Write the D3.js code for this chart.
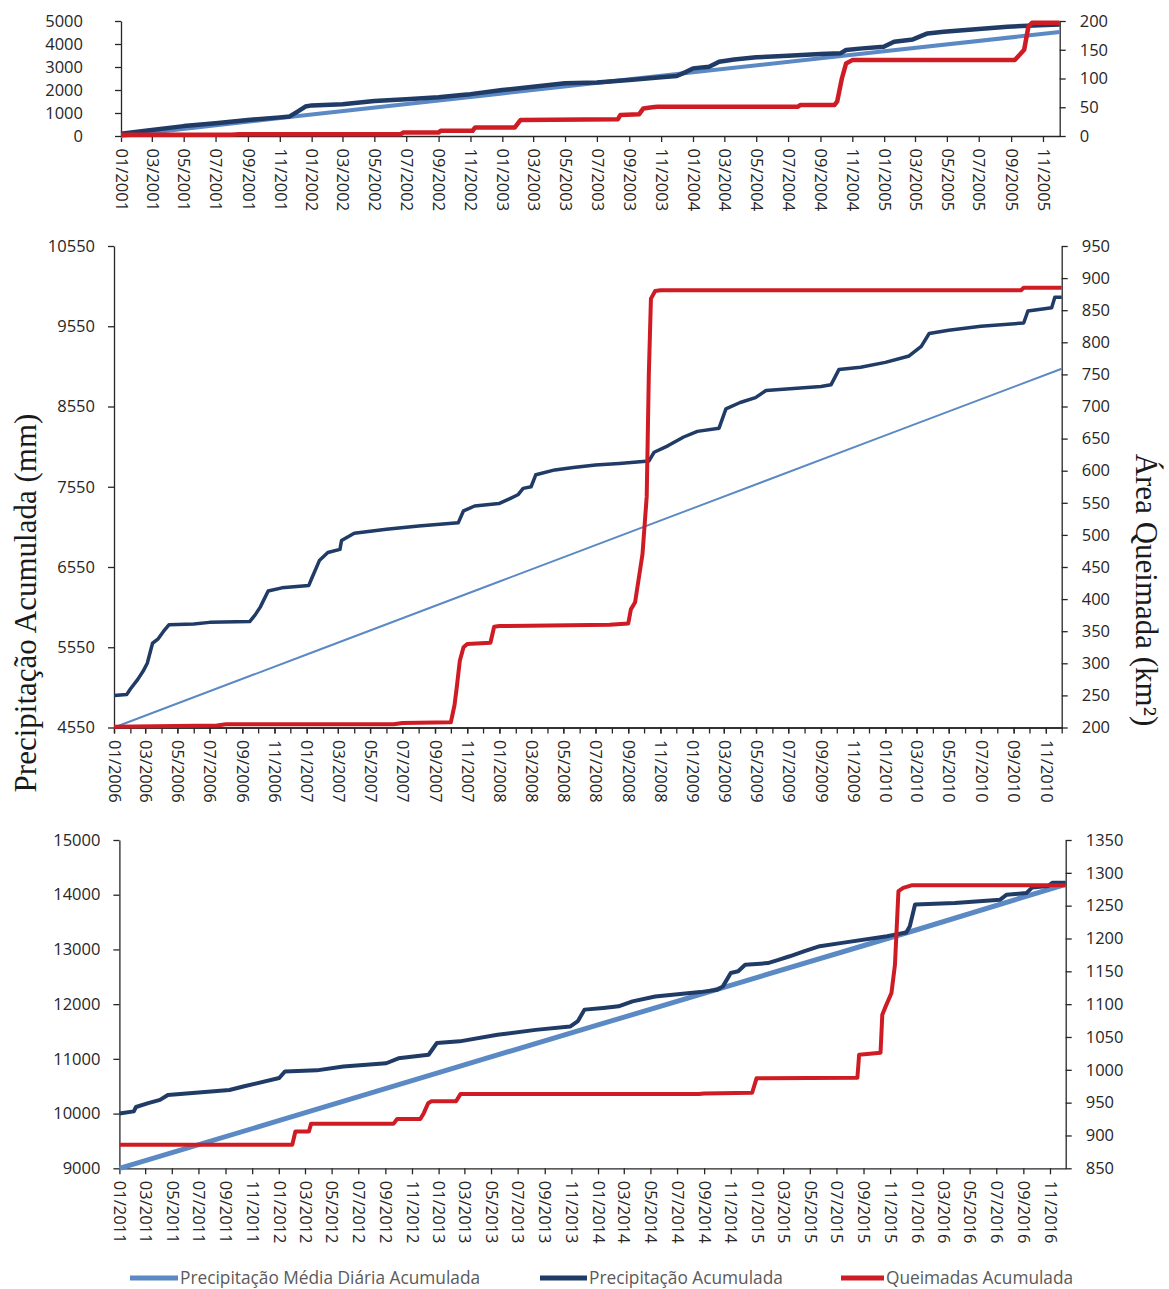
<!DOCTYPE html>
<html>
<head>
<meta charset="utf-8">
<script src="https://cdnjs.cloudflare.com/ajax/libs/d3/7.8.5/d3.min.js"></script>
<style>
    body { margin: 0; background: #fff; }
    .tick text { font-family: "Open Sans", sans-serif; font-size: 16.5px; fill: #262626; }
    .axis path, .axis line { stroke: #262626; stroke-width: 1.3px; }
    .legend text { font-family: "Open Sans", sans-serif; font-size: 17.3px; fill: #5a5a5a; }
    .title { font-family: "Liberation Serif", "Times New Roman", serif; font-size: 31px; fill: #1a1a1a; }
</style>
</head>
<body>
<div id="chart"></div>
<script>
const seriesNames = ["Precipitação Média Diária Acumulada", "Precipitação Acumulada", "Queimadas Acumulada"];
const seriesColors = ["#5b89c4", "#1f3b66", "#cf1c24"];

// 2001 - 2005 (mm on the left, km2 on the right)
const mean2001 = [["2001-01-01", 0], ["2002-01-01", 930], ["2003-01-01", 1850], ["2004-01-01", 2770],
    ["2005-01-01", 3680], ["2005-12-03", 4520]];
const precip2001 = [["2001-01-01", 100], ["2001-03-01", 260], ["2001-05-01", 430], ["2001-07-01", 550],
    ["2001-09-01", 700], ["2001-11-01", 810], ["2001-11-20", 850], ["2001-12-05", 1060], ["2001-12-20", 1280],
    ["2002-01-01", 1330], ["2002-03-01", 1380], ["2002-05-01", 1520], ["2002-07-01", 1600], ["2002-09-01", 1680],
    ["2002-10-15", 1780], ["2002-11-01", 1820], ["2003-01-01", 2000], ["2003-03-01", 2140], ["2003-05-01", 2290],
    ["2003-07-01", 2330], ["2003-09-01", 2435], ["2003-11-01", 2550], ["2003-12-01", 2610], ["2003-12-20", 2800],
    ["2004-01-01", 2940], ["2004-02-01", 3010], ["2004-02-20", 3230], ["2004-03-20", 3330], ["2004-05-01", 3420],
    ["2004-07-01", 3490], ["2004-09-01", 3560], ["2004-10-10", 3600], ["2004-10-20", 3740], ["2004-11-20", 3810],
    ["2004-12-31", 3880], ["2005-01-20", 4100], ["2005-02-25", 4200], ["2005-03-25", 4460], ["2005-04-25", 4530],
    ["2005-06-25", 4640], ["2005-08-25", 4750], ["2005-10-25", 4820], ["2005-12-03", 4850]];
const burned2001 = [["2001-01-01", 2], ["2001-08-01", 2], ["2001-08-15", 3], ["2002-06-20", 3], ["2002-06-25", 6],
    ["2002-09-01", 6], ["2002-09-05", 9], ["2002-11-05", 9], ["2002-11-10", 15], ["2003-01-25", 15],
    ["2003-02-05", 28], ["2003-08-10", 29], ["2003-08-15", 36.5], ["2003-09-20", 38], ["2003-09-28", 48],
    ["2003-10-15", 50], ["2003-10-25", 51], ["2004-07-20", 51], ["2004-07-25", 54], ["2004-09-28", 54],
    ["2004-10-03", 60], ["2004-10-12", 100], ["2004-10-20", 126], ["2004-11-01", 132], ["2005-09-08", 132],
    ["2005-09-26", 150], ["2005-10-04", 190], ["2005-10-11", 197], ["2005-12-03", 197]];
const leftTicks2001 = [0, 1000, 2000, 3000, 4000, 5000];
const rightTicks2001 = [0, 50, 100, 150, 200];

// 2006 - 2010
const mean2006 = [["2006-01-01", 4550], ["2007-01-01", 5460], ["2008-01-01", 6370], ["2009-01-01", 7280],
    ["2010-01-01", 8190], ["2010-12-01", 9020]];
const precip2006 = [["2006-01-01", 4950], ["2006-01-25", 4960], ["2006-02-01", 5030], ["2006-02-15", 5150],
    ["2006-02-25", 5250], ["2006-03-05", 5350], ["2006-03-15", 5600], ["2006-03-25", 5650], ["2006-04-05", 5750],
    ["2006-04-15", 5830], ["2006-06-01", 5840], ["2006-07-01", 5860], ["2006-09-15", 5870], ["2006-09-25", 5950],
    ["2006-10-05", 6050], ["2006-10-20", 6250], ["2006-11-15", 6290], ["2007-01-05", 6320], ["2007-01-10", 6400],
    ["2007-01-25", 6630], ["2007-02-10", 6730], ["2007-03-05", 6770], ["2007-03-08", 6880], ["2007-04-01", 6970],
    ["2007-06-01", 7020], ["2007-08-01", 7060], ["2007-10-15", 7100], ["2007-10-25", 7250], ["2007-11-15", 7310],
    ["2007-12-31", 7340], ["2008-01-20", 7400], ["2008-02-05", 7450], ["2008-02-15", 7530], ["2008-03-01", 7550],
    ["2008-03-10", 7700], ["2008-04-15", 7760], ["2008-05-20", 7790], ["2008-07-01", 7820], ["2008-08-15", 7840],
    ["2008-10-10", 7870], ["2008-10-20", 7980], ["2008-11-15", 8060], ["2008-12-15", 8170], ["2009-01-10", 8240],
    ["2009-02-20", 8280], ["2009-03-05", 8520], ["2009-04-01", 8600], ["2009-04-30", 8660], ["2009-05-20", 8750],
    ["2009-09-01", 8800], ["2009-09-20", 8820], ["2009-10-05", 9010], ["2009-11-15", 9040], ["2010-01-01", 9100],
    ["2010-02-15", 9180], ["2010-03-10", 9300], ["2010-03-25", 9460], ["2010-05-01", 9500], ["2010-07-01", 9550],
    ["2010-09-20", 9590], ["2010-09-28", 9740], ["2010-11-12", 9780], ["2010-11-18", 9910], ["2010-12-01", 9910]];
const burned2006 = [["2006-01-01", 201], ["2006-07-15", 203], ["2006-08-01", 205], ["2007-06-15", 205],
    ["2007-07-01", 207], ["2007-10-01", 208], ["2007-10-08", 235], ["2007-10-12", 261], ["2007-10-18", 304],
    ["2007-10-25", 325], ["2007-11-01", 330], ["2007-12-15", 332], ["2007-12-22", 357], ["2008-01-01", 358],
    ["2008-07-28", 360], ["2008-09-01", 362], ["2008-09-06", 384], ["2008-09-14", 395], ["2008-09-22", 438],
    ["2008-09-28", 470], ["2008-10-06", 560], ["2008-10-10", 750], ["2008-10-14", 868], ["2008-10-22", 880],
    ["2008-11-01", 881], ["2010-09-15", 881], ["2010-09-20", 885], ["2010-12-01", 885]];
const leftTicks2006 = [4550, 5550, 6550, 7550, 8550, 9550, 10550];
const rightTicks2006 = [200, 250, 300, 350, 400, 450, 500, 550, 600, 650, 700, 750, 800, 850, 900, 950];

// 2011 - 2016
const mean2011 = [["2011-01-01", 9000], ["2012-01-01", 9870], ["2013-01-01", 10750], ["2014-01-01", 11620],
    ["2015-01-01", 12490], ["2016-01-01", 13360], ["2016-12-07", 14190]];
const precip2011 = [["2011-01-01", 10000], ["2011-02-03", 10040], ["2011-02-08", 10120], ["2011-03-08", 10190],
    ["2011-04-04", 10250], ["2011-04-22", 10340], ["2011-09-10", 10430], ["2011-10-14", 10500], ["2012-01-02", 10650],
    ["2012-01-15", 10770], ["2012-03-28", 10790], ["2012-05-28", 10860], ["2012-09-03", 10920], ["2012-10-01", 11010],
    ["2012-12-09", 11075], ["2012-12-28", 11290], ["2013-02-18", 11320], ["2013-05-16", 11440], ["2013-08-11", 11530],
    ["2013-10-29", 11590], ["2013-11-16", 11690], ["2013-12-01", 11900], ["2014-01-13", 11930], ["2014-02-17", 11960],
    ["2014-03-21", 12050], ["2014-05-12", 12140], ["2014-08-23", 12220], ["2014-10-01", 12265], ["2014-10-14", 12325],
    ["2014-11-01", 12570], ["2014-11-18", 12600], ["2014-12-04", 12720], ["2015-01-25", 12750], ["2015-02-20", 12815],
    ["2015-03-16", 12875], ["2015-04-19", 12970], ["2015-05-24", 13060], ["2015-07-14", 13120], ["2015-10-25", 13240],
    ["2015-11-12", 13270], ["2015-12-08", 13310], ["2015-12-16", 13425], ["2015-12-28", 13820], ["2016-03-28", 13850],
    ["2016-07-10", 13910], ["2016-07-25", 14000], ["2016-09-08", 14030], ["2016-09-21", 14130], ["2016-10-28", 14160],
    ["2016-11-07", 14220], ["2016-12-07", 14220]];
const burned2011 = [["2011-01-01", 886], ["2012-02-01", 886], ["2012-02-08", 906], ["2012-03-10", 906],
    ["2012-03-15", 918], ["2012-09-20", 918], ["2012-09-28", 925], ["2012-11-20", 925], ["2012-11-28", 934],
    ["2012-12-08", 949], ["2012-12-15", 952], ["2013-02-10", 952], ["2013-02-20", 963], ["2014-08-20", 963],
    ["2014-09-01", 964], ["2014-12-20", 965], ["2014-12-30", 987], ["2015-08-18", 988], ["2015-08-22", 1023],
    ["2015-10-10", 1026], ["2015-10-14", 1084], ["2015-10-22", 1097], ["2015-11-04", 1117], ["2015-11-12", 1160],
    ["2015-11-20", 1272], ["2015-12-01", 1277], ["2015-12-20", 1281], ["2016-12-07", 1281]];
const leftTicks2011 = [9000, 10000, 11000, 12000, 13000, 14000, 15000];
const rightTicks2011 = [850, 900, 950, 1000, 1050, 1100, 1150, 1200, 1250, 1300, 1350];

const parse = d3.timeParse("%Y-%m-%d");
const plain = d3.format("d");

const panels = [
    { start: "2001-01-01", end: "2005-12-03", x0: 121, x1: 1059.7, top: 21, bottom: 136,
      left: [0, 5000], right: [0, 200], leftTicks: leftTicks2001, rightTicks: rightTicks2001,
      series: [mean2001, precip2001, burned2001], widths: [4, 4.5, 4.5], minor: false, leftPad: 32 },
    { start: "2006-01-01", end: "2010-12-01", x0: 114, x1: 1061.7, top: 246, bottom: 727.5,
      left: [4550, 10550], right: [200, 950], leftTicks: leftTicks2006, rightTicks: rightTicks2006,
      series: [mean2006, precip2006, burned2006], widths: [2, 3.5, 4], minor: true, leftPad: 13 },
    { start: "2011-01-01", end: "2016-12-07", x0: 119.4, x1: 1065.7, top: 840, bottom: 1168.3,
      left: [9000, 15000], right: [850, 1350], leftTicks: leftTicks2011, rightTicks: rightTicks2011,
      series: [mean2011, precip2011, burned2011], widths: [5, 4, 4], minor: false, leftPad: 13 }
];

const svg = d3.select("#chart").append("svg")
    .attr("width", 1169)
    .attr("height", 1289);

svg.append("rect").attr("width", 1169).attr("height", 1289).attr("fill", "#fff");

panels.forEach(function (p) {
    let x = d3.scaleTime()
        .domain([parse(p.start), parse(p.end)])
        .range([p.x0, p.x1]);
    let yLeft = d3.scaleLinear().domain(p.left).range([p.bottom, p.top]);
    let yRight = d3.scaleLinear().domain(p.right).range([p.bottom, p.top]);

    let g = svg.append("g");

    // monthly minor ticks (only the middle chart has them)
    if (p.minor) {
        g.append("g")
            .attr("class", "axis")
            .attr("transform", "translate(0," + p.bottom + ")")
            .call(d3.axisBottom(x).ticks(d3.timeMonth.every(1)).tickSize(6).tickSizeOuter(0).tickFormat(""));
    }

    let xAxis = g.append("g")
        .attr("class", "axis")
        .attr("transform", "translate(0," + p.bottom + ")")
        .call(d3.axisBottom(x)
            .ticks(d3.timeMonth.every(2))
            .tickSize(6)
            .tickSizeOuter(0)
            .tickFormat(d3.timeFormat("%m/%Y")));
    xAxis.attr("font-size", null).attr("font-family", null);
    xAxis.selectAll("text")
        .attr("transform", "rotate(90)")
        .attr("x", 12.5)
        .attr("y", 0)
        .attr("dy", "0.35em")
        .style("text-anchor", "start");

    let leftAxis = g.append("g")
        .attr("class", "axis")
        .attr("transform", "translate(" + p.x0 + ",0)")
        .call(d3.axisLeft(yLeft).tickValues(p.leftTicks).tickFormat(plain)
            .tickSize(6).tickSizeOuter(0).tickPadding(p.leftPad));
    leftAxis.attr("font-size", null).attr("font-family", null);

    let rightAxis = g.append("g")
        .attr("class", "axis")
        .attr("transform", "translate(" + p.x1 + ",0)")
        .call(d3.axisRight(yRight).tickValues(p.rightTicks).tickFormat(plain)
            .tickSize(6).tickSizeOuter(0).tickPadding(14));
    rightAxis.attr("font-size", null).attr("font-family", null);

    let lineLeft = d3.line()
        .x(function (d) { return x(parse(d[0])); })
        .y(function (d) { return yLeft(d[1]); });
    let lineRight = d3.line()
        .x(function (d) { return x(parse(d[0])); })
        .y(function (d) { return yRight(d[1]); });

    p.series.forEach(function (s, i) {
        g.append("path")
            .datum(s)
            .attr("fill", "none")
            .attr("stroke", seriesColors[i])
            .attr("stroke-width", p.widths[i])
            .attr("stroke-linejoin", "round")
            .attr("d", i === 2 ? lineRight : lineLeft);
    });
});

// axis titles
svg.append("text")
    .attr("class", "title")
    .attr("transform", "translate(36,603) rotate(-90)")
    .attr("text-anchor", "middle")
    .text("Precipitação Acumulada (mm)");

svg.append("text")
    .attr("class", "title")
    .attr("transform", "translate(1136,590) rotate(90)")
    .attr("text-anchor", "middle")
    .text("Área Queimada (km²)");

// legend
const legendX = [130, 540, 841];
const legendLen = [48, 47, 43];
let legend = svg.append("g").attr("class", "legend");
seriesNames.forEach(function (name, i) {
    legend.append("line")
        .attr("x1", legendX[i]).attr("x2", legendX[i] + legendLen[i])
        .attr("y1", 1278).attr("y2", 1278)
        .attr("stroke", seriesColors[i])
        .attr("stroke-width", 5);
    legend.append("text")
        .attr("x", legendX[i] + legendLen[i] + 2)
        .attr("y", 1278)
        .attr("dy", "0.35em")
        .text(name);
});
</script>
</body>
</html>
